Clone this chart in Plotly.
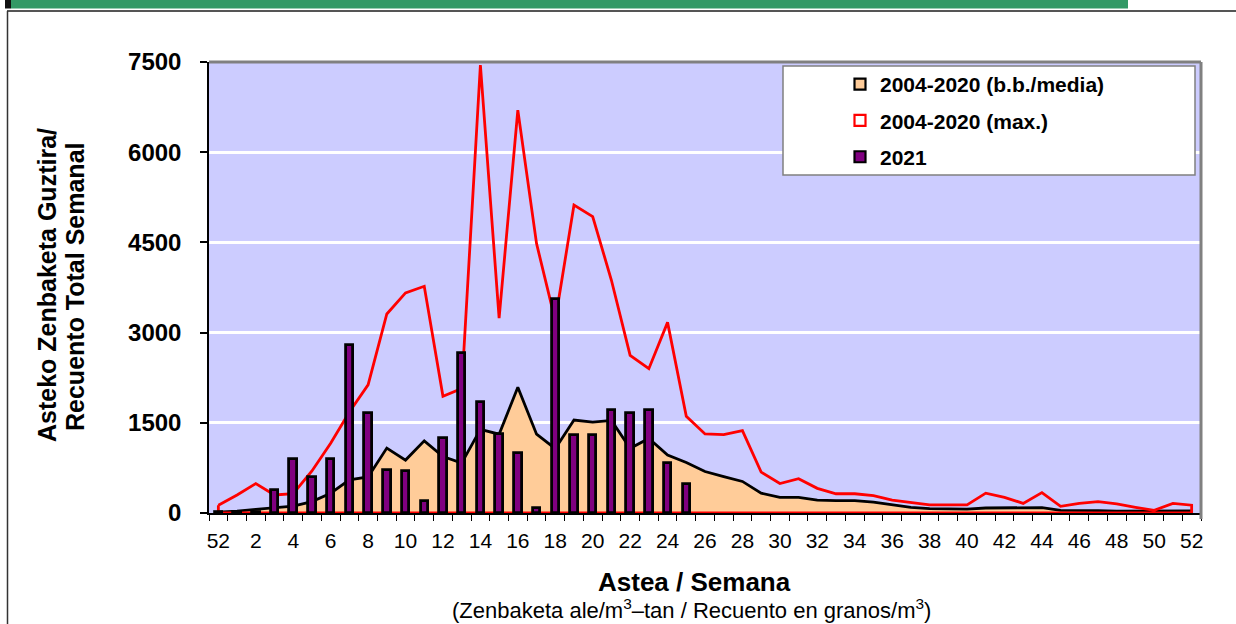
import plotly.graph_objects as go

# ---- data ----
week_labels = ["52"] + [str(w) for w in range(1, 53)]
tick_labels = ["52"] + [str(w) for w in range(2, 53, 2)]

mean_2004_2020 = [15, 30, 60, 90, 116, 190, 330, 550, 600, 1080, 880, 1200, 940, 830,
                  1390, 1310, 2090, 1310, 1070, 1545, 1510, 1540, 1075, 1240, 965, 840,
                  690, 605, 525, 330, 260, 260, 215, 205, 205, 180, 135, 95, 72, 66, 66,
                  83, 83, 83, 90, 45, 45, 40, 30, 30, 30, 33, 35]

max_2004_2020 = [130, 300, 490, 300, 320, 700, 1160, 1680, 2130, 3310, 3660, 3770, 1940,
                 2070, 7450, 3240, 6700, 4480, 3200, 5120, 4930, 3870, 2620, 2400, 3170,
                 1610, 1315, 1305, 1370, 680, 490, 570, 410, 320, 320, 290, 215, 170, 135,
                 135, 135, 330, 260, 160, 340, 110, 160, 190, 150, 95, 45, 160, 130]

values_2021 = [10, 15, 15, 380, 900, 595, 895, 2800, 1670, 715, 705, 200, 1240, 2660,
               1840, 1310, 990, 75, 3560, 1290, 1290, 1705, 1660, 1705, 825, 490]

y_ticks = [0, 1500, 3000, 4500, 6000, 7500]

FONT = "Liberation Sans, Arial, sans-serif"
x_idx = list(range(len(week_labels)))
tick_pos = [0] + list(range(2, 53, 2))

fig = go.Figure()

# mean area
fig.add_trace(go.Scatter(
    x=x_idx, y=mean_2004_2020, mode="lines", fill="tozeroy",
    fillcolor="#FFCC99", line=dict(color="black", width=2.8),
    showlegend=False, hoverinfo="skip"))

# max outline (area without fill)
x_poly = x_idx + [x_idx[-1], x_idx[0], x_idx[0]]
y_poly = max_2004_2020 + [0, 0, max_2004_2020[0]]
fig.add_trace(go.Scatter(
    x=x_poly, y=y_poly, mode="lines",
    line=dict(color="#FF0000", width=2.8),
    showlegend=False, hoverinfo="skip"))

# 2021 bars (on an overlaying axis so they are drawn above the areas)
fig.add_trace(go.Bar(
    x=x_idx[:len(values_2021)], y=values_2021, width=0.40, yaxis="y2",
    marker=dict(color="#800080", line=dict(color="black", width=2.8)),
    showlegend=False))

# legend entries
legend_items = [
    ("2004-2020 (b.b./media)", "#FFCC99", "black"),
    ("2004-2020 (max.)", "white", "#FF0000"),
    ("2021", "#800080", "black"),
]
for i, (name, fc, lc) in enumerate(legend_items):
    fig.add_trace(go.Scatter(
        x=[None], y=[None], mode="markers", name=f"<b>{name}</b>", legendgroup=f"g{i}",
        marker=dict(symbol="square", size=11, color=fc, line=dict(color=lc, width=2.2))))

X0, X1, YT, YB = 209, 1201, 62, 513
W, H = X1 - X0, YB - YT
def px(x):
    return (x - X0) / W
def py(y):
    return (YB - y) / H

shapes = [
    # header strip
    dict(type="rect", xref="paper", yref="paper", x0=px(11), x1=px(1128), y0=py(8.5), y1=py(-2),
         fillcolor="#339966", line=dict(width=0), layer="above"),
    dict(type="rect", xref="paper", yref="paper", x0=px(5), x1=px(11), y0=py(8.5), y1=py(-2),
         fillcolor="#111111", line=dict(width=0), layer="above"),
    # frame lines
    dict(type="line", xref="paper", yref="paper", x0=px(7), x1=px(1240), y0=py(11), y1=py(11),
         line=dict(color="#555555", width=2)),
    dict(type="line", xref="paper", yref="paper", x0=px(7.5), x1=px(7.5), y0=py(11), y1=py(630),
         line=dict(color="#333333", width=1.5)),
    # plot top & right borders
    dict(type="line", xref="paper", yref="paper", x0=0, x1=1, y0=1, y1=1,
         line=dict(color="#808080", width=3)),
    dict(type="line", xref="paper", yref="paper", x0=1, x1=1, y0=py(519), y1=1,
         line=dict(color="#808080", width=3)),
    # legend box
    dict(type="rect", xref="paper", yref="paper", x0=px(783), x1=px(1195), y0=py(175), y1=py(66),
         fillcolor="white", line=dict(color="#808080", width=1.5), layer="above"),
]

annotations = [
    dict(text="<b>Astea / Semana</b>", xref="paper", yref="paper", x=px(694), y=py(582),
         xanchor="center", yanchor="middle", showarrow=False,
         font=dict(family=FONT, size=26, color="black")),
    dict(text="(Zenbaketa ale/m<sup>3</sup>–tan / Recuento en granos/m<sup>3</sup>)",
         xref="paper", yref="paper", x=px(691), y=py(609),
         xanchor="center", yanchor="middle", showarrow=False,
         font=dict(family=FONT, size=22, color="black")),
    dict(text="<b>Asteko Zenbaketa Guztira/</b>",
         xref="paper", yref="paper", x=px(47), y=py(285), textangle=-90,
         xanchor="center", yanchor="middle", showarrow=False,
         font=dict(family=FONT, size=25, color="black")),
    dict(text="<b>Recuento Total Semanal</b>",
         xref="paper", yref="paper", x=px(75), y=py(287), textangle=-90,
         xanchor="center", yanchor="middle", showarrow=False,
         font=dict(family=FONT, size=25, color="black")),
]

fig.update_layout(
    width=1236, height=624,
    margin=dict(l=X0, r=1236 - X1, t=YT, b=624 - YB, pad=0),
    paper_bgcolor="white", plot_bgcolor="#CCCCFF",
    font=dict(family=FONT, color="black"),
    shapes=shapes, annotations=annotations,
    bargap=0,
    legend=dict(x=px(840), y=py(64), xanchor="left", yanchor="top",
                bgcolor="rgba(0,0,0,0)", borderwidth=0,
                traceorder="grouped", tracegroupgap=6,
                font=dict(family=FONT, size=21, color="black"),
                itemclick=False),
    xaxis=dict(range=[-0.5, 52.5], tickmode="array", tickvals=tick_pos, ticktext=tick_labels,
               ticks="", showgrid=False, zeroline=False, showline=True,
               linecolor="black", linewidth=1.5, layer="below traces",
               tickfont=dict(family=FONT, size=21, color="black"), ticklabelstandoff=8,
               minor=dict(ticks="outside", tick0=-0.5, dtick=1, ticklen=6,
                          tickcolor="black", tickwidth=1, showgrid=False)),
    yaxis=dict(range=[0, 7500], tickmode="array", tickvals=y_ticks,
               ticktext=[f"<b>{v}</b>" for v in y_ticks],
               ticks="outside", ticklen=7, tickcolor="black", tickwidth=1.5,
               showgrid=True, gridcolor="white", gridwidth=3, zeroline=False,
               showline=True, linecolor="black", linewidth=1.5,
               tickfont=dict(family=FONT, size=24, color="black"), ticklabelstandoff=14),
    yaxis2=dict(range=[0, 7500], overlaying="y", side="left", visible=False,
                showgrid=False, zeroline=False),
)

fig.write_html("out.html", config={"displayModeBar": False},
               post_script="document.body.style.margin='0px';")
